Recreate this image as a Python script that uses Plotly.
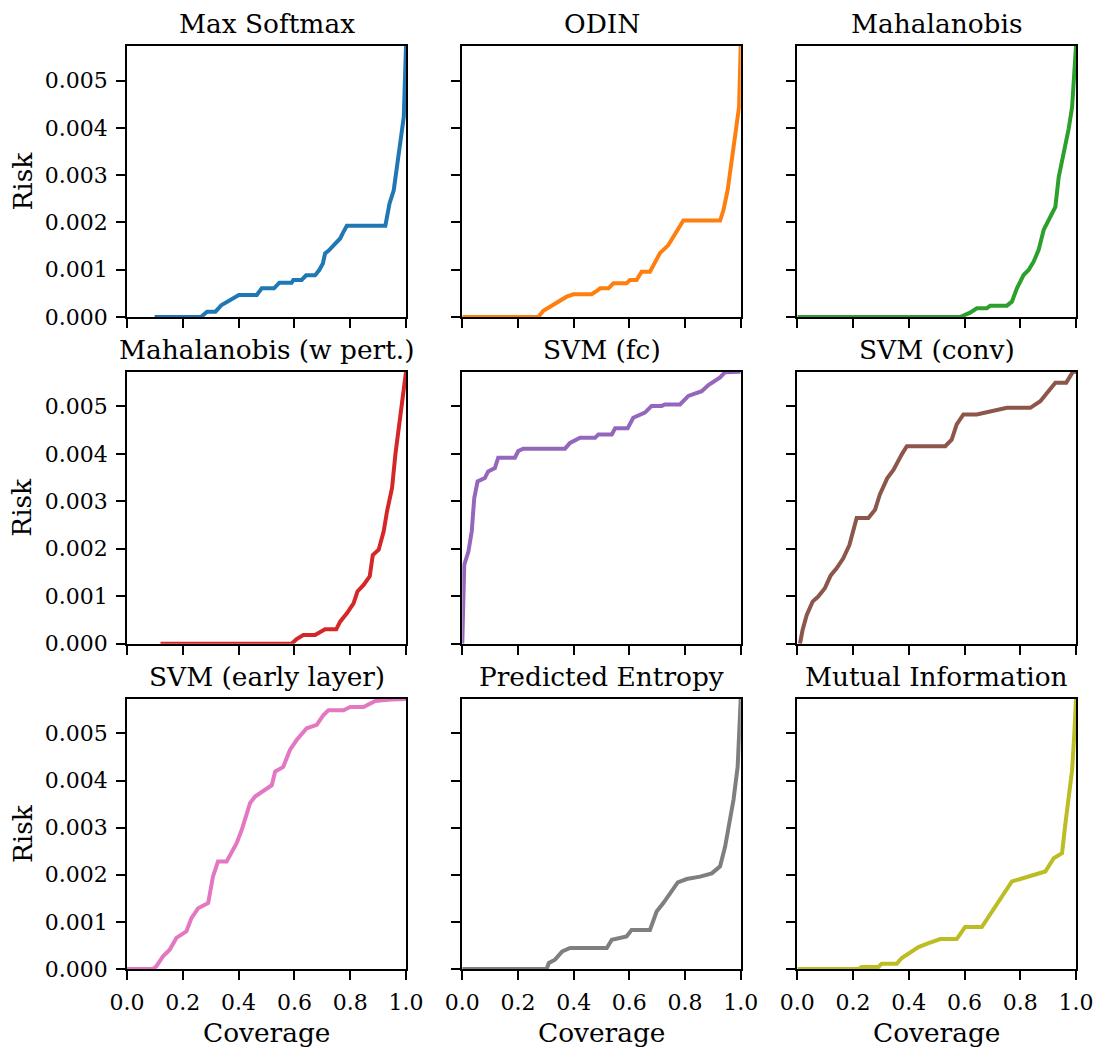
import plotly.graph_objects as go

# Risk-coverage curves for nine out-of-distribution / uncertainty scores
titles = ["Max Softmax", "ODIN", "Mahalanobis",
          "Mahalanobis (w pert.)", "SVM (fc)", "SVM (conv)",
          "SVM (early layer)", "Predicted Entropy", "Mutual Information"]
colors = ["#1f77b4", "#ff7f0e", "#2ca02c", "#d62728", "#9467bd",
          "#8c564b", "#e377c2", "#7f7f7f", "#bcbd22"]

cov_max_softmax = [0.099, 0.265, 0.287, 0.317, 0.339, 0.401, 0.465, 0.483, 0.527, 0.546, 0.590, 0.596, 0.626, 0.642,
                   0.674, 0.689, 0.702, 0.710, 0.722, 0.746, 0.764, 0.774, 0.788, 0.926, 0.932, 0.941, 0.956, 0.968,
                   0.980, 0.992, 0.995, 1.0]
risk_max_softmax = [0.0, 0.0, 0.000113, 0.000113, 0.000254, 0.000465, 0.000465, 0.000606, 0.000606, 0.000725,
                    0.000725, 0.000782, 0.000782, 0.00088, 0.00088, 0.000993, 0.00113, 0.001345, 0.0014, 0.00154,
                    0.00166, 0.00178, 0.00193, 0.00193, 0.00212, 0.0024, 0.00268, 0.00318, 0.00374, 0.00423,
                    0.0048, 0.00573]

cov_odin = [0.0, 0.273, 0.291, 0.321, 0.351, 0.375, 0.399, 0.465, 0.483, 0.495, 0.525, 0.543, 0.590, 0.602, 0.626,
            0.644, 0.674, 0.692, 0.710, 0.740, 0.770, 0.794, 0.926, 0.938, 0.953, 0.965, 0.977, 0.994, 1.0]
risk_odin = [0.0, 0.0, 0.000134, 0.00024, 0.000324, 0.00043, 0.00048, 0.00048, 0.00055, 0.000606, 0.000606,
             0.000711, 0.000711, 0.00078, 0.00078, 0.000958, 0.000958, 0.00117, 0.00135, 0.00152, 0.0018, 0.00204,
             0.00204, 0.00226, 0.00268, 0.00318, 0.00381, 0.00444, 0.00573]

cov_mahalanobis = [0.0, 0.584, 0.620, 0.644, 0.680, 0.692, 0.752, 0.770, 0.788, 0.812, 0.830, 0.848, 0.866, 0.884,
                   0.908, 0.926, 0.938, 0.958, 0.974, 0.986, 0.994, 1.0]
risk_mahalanobis = [0.0, 0.0, 0.0000915, 0.000183, 0.000183, 0.00024, 0.00024, 0.000324, 0.000606, 0.000887,
                    0.000993, 0.00117, 0.00142, 0.00184, 0.00212, 0.00233, 0.00296, 0.00353, 0.00399, 0.00444,
                    0.00515, 0.00573]

cov_mahal_pert = [0.120, 0.590, 0.608, 0.632, 0.674, 0.692, 0.710, 0.750, 0.764, 0.788, 0.812, 0.826, 0.848, 0.870,
                  0.881, 0.902, 0.920, 0.932, 0.950, 0.962, 0.980, 0.992, 1.0]
risk_mahal_pert = [0.0, 0.0, 0.0000986, 0.000183, 0.000183, 0.000254, 0.000303, 0.000303, 0.000465, 0.00064,
                   0.000852, 0.0011, 0.00124, 0.00142, 0.00187, 0.00198, 0.00237, 0.00279, 0.00328, 0.00399,
                   0.00483, 0.00525, 0.00573]

cov_svm_fc = [0.0, 0.007, 0.022, 0.034, 0.043, 0.055, 0.081, 0.093, 0.117, 0.129, 0.189, 0.201, 0.219, 0.369, 0.387,
              0.423, 0.477, 0.489, 0.537, 0.549, 0.594, 0.614, 0.656, 0.680, 0.716, 0.728, 0.782, 0.812, 0.860,
              0.884, 0.926, 0.944, 1.0]
risk_svm_fc = [0.0, 0.00166, 0.00194, 0.00237, 0.00307, 0.00342, 0.00349, 0.00363, 0.0037, 0.00392, 0.00392,
               0.00406, 0.00411, 0.00411, 0.00423, 0.00434, 0.00434, 0.00441, 0.00441, 0.00454, 0.00454, 0.00476,
               0.00487, 0.00501, 0.00501, 0.00504, 0.00504, 0.00522, 0.00532, 0.00545, 0.00561, 0.00572, 0.00573]

cov_svm_conv = [0.0096, 0.019, 0.034, 0.055, 0.075, 0.099, 0.120, 0.141, 0.165, 0.187, 0.213, 0.255, 0.279, 0.296,
                0.323, 0.345, 0.375, 0.393, 0.531, 0.554, 0.572, 0.596, 0.644, 0.692, 0.752, 0.836, 0.872, 0.901,
                0.926, 0.965, 0.989, 1.0]
risk_svm_conv = [0.0, 0.000289, 0.000606, 0.000887, 0.000993, 0.00117, 0.00144, 0.00159, 0.0018, 0.00208, 0.00265,
                 0.00265, 0.00282, 0.00314, 0.00349, 0.00366, 0.00399, 0.00416, 0.00416, 0.0043, 0.00462, 0.00483,
                 0.00483, 0.0049, 0.00497, 0.00497, 0.00511, 0.00532, 0.0055, 0.0055, 0.00573, 0.00573]

cov_svm_early = [0.0, 0.093, 0.105, 0.129, 0.153, 0.177, 0.213, 0.231, 0.255, 0.291, 0.308, 0.326, 0.357, 0.375,
                 0.393, 0.411, 0.441, 0.459, 0.501, 0.519, 0.531, 0.560, 0.584, 0.608, 0.644, 0.680, 0.704, 0.722,
                 0.776, 0.800, 0.848, 0.872, 0.890, 0.944, 1.0]
risk_svm_early = [0.0, 0.0, 0.000056, 0.00027, 0.00041, 0.00066, 0.0008, 0.00108, 0.00129, 0.0014, 0.00196,
                  0.00228, 0.00228, 0.00246, 0.00267, 0.00295, 0.00352, 0.00366, 0.00383, 0.0039, 0.00419, 0.00429,
                  0.00465, 0.00486, 0.00511, 0.00518, 0.00539, 0.00549, 0.00549, 0.00556, 0.00556, 0.00564,
                  0.00569, 0.00572, 0.00573]

cov_entropy = [0.0, 0.303, 0.311, 0.333, 0.359, 0.387, 0.519, 0.537, 0.590, 0.608, 0.674, 0.698, 0.722, 0.746,
               0.774, 0.806, 0.854, 0.896, 0.926, 0.944, 0.958, 0.974, 0.989, 0.994, 1.0]
risk_entropy = [0.0, 0.0, 0.000127, 0.000198, 0.000374, 0.000445, 0.000445, 0.00062, 0.00069, 0.00083, 0.00083,
                0.00122, 0.0014, 0.00161, 0.00184, 0.00191, 0.00196, 0.00203, 0.00218, 0.0026, 0.00309, 0.00359,
                0.00429, 0.005, 0.00573]

cov_mutual_info = [0.0, 0.219, 0.231, 0.291, 0.303, 0.357, 0.375, 0.405, 0.435, 0.471, 0.513, 0.572, 0.602, 0.662,
                   0.680, 0.704, 0.728, 0.752, 0.770, 0.800, 0.848, 0.890, 0.920, 0.950, 0.962, 0.971, 0.986,
                   0.994, 1.0]
risk_mutual_info = [0.0, 0.0, 0.000042, 0.000042, 0.000113, 0.000113, 0.000233, 0.00034, 0.000466, 0.00055,
                    0.000636, 0.000636, 0.00089, 0.00089, 0.00105, 0.00126, 0.00147, 0.00168, 0.00186, 0.00191,
                    0.002, 0.00207, 0.00235, 0.00246, 0.00309, 0.00352, 0.00422, 0.005, 0.00573]

coverages = [cov_max_softmax, cov_odin, cov_mahalanobis, cov_mahal_pert, cov_svm_fc,
             cov_svm_conv, cov_svm_early, cov_entropy, cov_mutual_info]
risks = [risk_max_softmax, risk_odin, risk_mahalanobis, risk_mahal_pert, risk_svm_fc,
         risk_svm_conv, risk_svm_early, risk_entropy, risk_mutual_info]

x_ticks = [0.0, 0.2, 0.4, 0.6, 0.8, 1.0]
y_ticks = [0.000, 0.001, 0.002, 0.003, 0.004, 0.005]
y_max = 0.00573

FONT = "DejaVu Serif"
TICK_SIZE = 22
LABEL_SIZE = 26.4

# grid geometry (paper fractions)
x_domains = [[0.0, 0.294], [0.3533, 0.6467], [0.7063, 1.0]]
y_domains = [[0.7064, 1.0], [0.3524, 0.6471], [0.0, 0.2925]]

fig = go.Figure()
annotations = []

for i in range(9):
    r, c = divmod(i, 3)
    n = i + 1
    xa = "x" if n == 1 else f"x{n}"
    ya = "y" if n == 1 else f"y{n}"
    fig.add_trace(go.Scatter(
        x=coverages[i], y=risks[i], mode="lines",
        line=dict(color=colors[i], width=4),
        xaxis=xa, yaxis=ya, showlegend=False, hoverinfo="skip"))

    axis_common = dict(showline=True, linewidth=1.6, linecolor="black", mirror=True,
                       ticks="outside", ticklen=9, tickwidth=1.6, tickcolor="black",
                       showgrid=False, zeroline=False, ticklabelstandoff=4, automargin=False,
                       tickfont=dict(family=FONT, size=TICK_SIZE, color="black"))
    fig.layout[f"xaxis{n if n > 1 else ''}"] = dict(
        axis_common, domain=x_domains[c], range=[0, 1], anchor=ya,
        tickvals=x_ticks, tickformat=".1f", showticklabels=(r == 2))
    fig.layout[f"yaxis{n if n > 1 else ''}"] = dict(
        axis_common, domain=y_domains[r], range=[0, y_max], anchor=xa,
        tickvals=y_ticks, tickformat=".3f", showticklabels=(c == 0))

    x_mid = (x_domains[c][0] + x_domains[c][1]) / 2
    annotations.append(dict(
        text=titles[i], x=x_mid, y=y_domains[r][1], xref="paper", yref="paper",
        xanchor="center", yanchor="bottom", yshift=5, showarrow=False,
        font=dict(family=FONT, size=LABEL_SIZE, color="black")))
    if c == 0:
        y_mid = (y_domains[r][0] + y_domains[r][1]) / 2
        annotations.append(dict(
            text="Risk", x=0, y=y_mid, xref="paper", yref="paper",
            xanchor="center", yanchor="middle", xshift=-105, textangle=-90,
            showarrow=False, font=dict(family=FONT, size=LABEL_SIZE, color="black")))
    if r == 2:
        annotations.append(dict(
            text="Coverage", x=x_mid, y=0, xref="paper", yref="paper",
            xanchor="center", yanchor="middle", yshift=-63,
            showarrow=False, font=dict(family=FONT, size=LABEL_SIZE, color="black")))

fig.update_layout(
    width=1094, height=1048,
    margin=dict(l=127, r=18, t=46, b=79, autoexpand=False),
    paper_bgcolor="white", plot_bgcolor="white",
    annotations=annotations,
    font=dict(family=FONT, color="black"))

fig.write_html("out.html")
